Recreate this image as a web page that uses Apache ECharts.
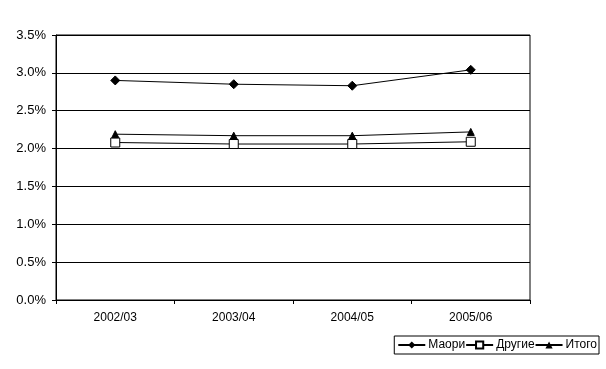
<!DOCTYPE html>
<html>
<head>
<meta charset="utf-8">
<script src="https://cdn.jsdelivr.net/npm/echarts@6/dist/echarts.min.js"></script>
<style>html,body{margin:0;padding:0;background:#fff}#c{width:606px;height:369px}</style>
</head>
<body>
<div id="c"></div>
<script>
const categories = ['2002/03', '2003/04', '2004/05', '2005/06'];
const maori = [2.90, 2.85, 2.83, 3.04];
const drugie = [2.08, 2.06, 2.06, 2.09];
const itogo = [2.19, 2.17, 2.17, 2.22];
const seriesNames = ['Маори', 'Другие', 'Итого'];

const chart = echarts.init(document.getElementById('c'), null, {renderer: 'canvas'});
const font = 'Arial, "Liberation Sans", sans-serif';
chart.setOption({
  animation: false,
  backgroundColor: '#fff',
  grid: {left: 56, right: 76, top: 35, bottom: 69, show: true, borderColor: '#000', borderWidth: 1, backgroundColor: '#fff'},
  legend: {
    right: 7, bottom: 15,
    data: seriesNames,
    borderColor: '#000', borderWidth: 1,
    padding: [3, 2, 3, 3],
    itemGap: 0,
    itemWidth: 27, itemHeight: 9,
    textStyle: {fontFamily: font, fontSize: 12, color: '#000', padding: [0, 0, 0, -2]}
  },
  xAxis: {
    type: 'category', data: categories, boundaryGap: true,
    axisLine: {lineStyle: {color: '#000', width: 1}},
    axisTick: {show: true, length: 4, lineStyle: {color: '#000'}},
    axisLabel: {fontFamily: font, fontSize: 12, color: '#000', margin: 12}
  },
  yAxis: {
    type: 'value', min: 0, max: 3.5, interval: 0.5,
    axisLine: {show: true, lineStyle: {color: '#000', width: 1}},
    axisTick: {show: true, length: 4, lineStyle: {color: '#000'}},
    splitLine: {lineStyle: {color: '#000', width: 1}},
    axisLabel: {fontFamily: font, fontSize: 13, color: '#000', margin: 10, formatter: v => v.toFixed(1) + '%'}
  },
  series: [
    {name: seriesNames[0], type: 'line', data: maori, symbol: 'diamond', symbolSize: 9,
     lineStyle: {color: '#000', width: 1}, itemStyle: {color: '#000', borderColor: '#000'}},
    {name: seriesNames[1], type: 'line', data: drugie, symbol: 'rect', symbolSize: 9,
     lineStyle: {color: '#000', width: 1}, itemStyle: {color: '#fff', borderColor: '#000', borderWidth: 1}},
    {name: seriesNames[2], type: 'line', data: itogo, symbol: 'triangle', symbolSize: 7,
     lineStyle: {color: '#000', width: 1}, itemStyle: {color: '#000', borderColor: '#000'}}
  ]
});
</script>
</body>
</html>
